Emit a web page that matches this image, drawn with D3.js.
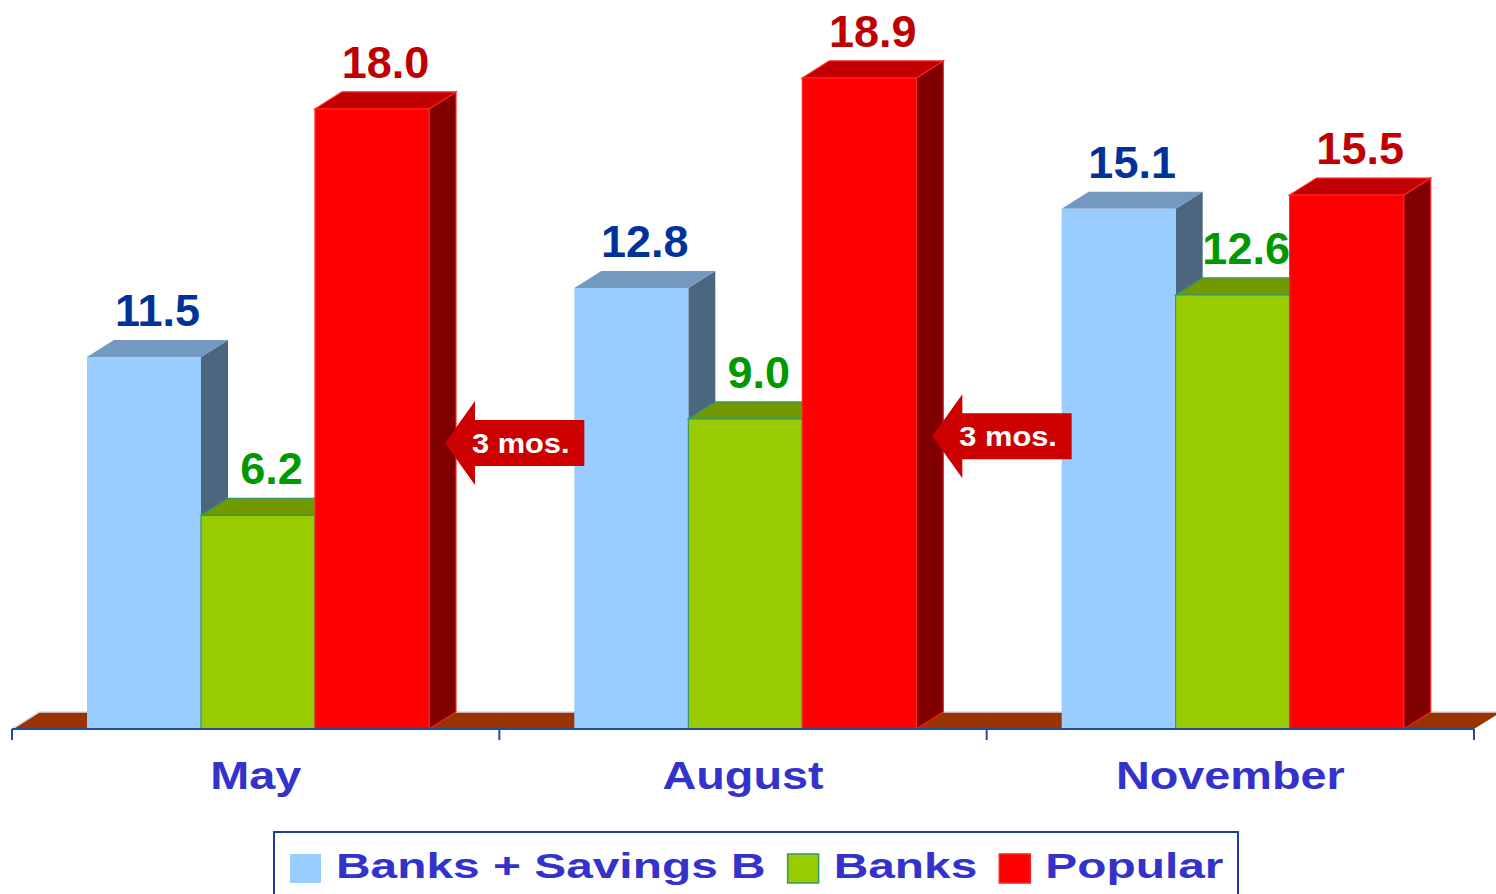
<!DOCTYPE html>
<html>
<head>
<meta charset="utf-8">
<script src="https://cdn.jsdelivr.net/npm/d3@7"></script>
<style>
body { margin: 0; background: #fff; }
svg { display: block; }
text { font-family: "Liberation Sans", Arial, sans-serif; font-weight: bold; }
</style>
</head>
<body>
<svg width="1496" height="894"></svg>
<script>
var categories = ["May", "August", "November"];
var series = ["Banks + Savings B", "Banks", "Popular"];

// bar heights as they are drawn in the picture
var banksSavings = [10.8, 12.8, 15.1];
var banks = [6.2, 9.0, 12.6];
var popular = [18.0, 18.9, 15.5];

// printed value labels
var banksSavingsLabels = ["11.5", "12.8", "15.1"];
var banksLabels = ["6.2", "9.0", "12.6"];
var popularLabels = ["18.0", "18.9", "15.5"];

var arrowText = ["3 mos.", "3 mos."];
var arrowLevel = [8.3, 8.5];

var svg = d3.select("svg"),
    width = +svg.attr("width"),
    height = +svg.attr("height");

var base = 729, dx = 27, dy = 17;

var styles = {
  "Banks + Savings B": {front: "#99ccff", top: "#7399c0", side: "#4d6680", stroke: "none", label: "#003399"},
  "Banks": {front: "#99cc00", top: "#739900", side: "#4d6600", stroke: "#339966", label: "#009900"},
  "Popular": {front: "#ff0000", top: "#c00000", side: "#800000", stroke: "#ff2020", label: "#c00000"}
};

var x0 = d3.scaleBand().domain(categories).range([12, 1474]);
var x1 = d3.scaleBand().domain(series).range([75, 417]);
var y = d3.scaleLinear().domain([0, 20]).range([base, base - 20 * 34.45]);

var values = [banksSavings, banks, popular];
var labels = [banksSavingsLabels, banksLabels, popularLabels];

var data = [];
categories.forEach(function(c, i) {
  series.forEach(function(s, j) {
    data.push({cat: c, ser: s, value: values[j][i], label: labels[j][i]});
  });
});

// floor
var x0r = x0.range();
svg.append("path")
  .attr("d", "M" + x0r[0] + "," + base + "L" + x0r[1] + "," + base +
       "L" + (x0r[1] + dx) + "," + (base - dy) + "L" + (x0r[0] + dx) + "," + (base - dy) + "Z")
  .attr("fill", "#993300");
svg.append("path")
  .attr("d", "M" + x0r[0] + "," + base + "L" + (x0r[0] + dx) + "," + (base - dy) + "L" + (x0r[1] + dx) + "," + (base - dy))
  .attr("fill", "none")
  .attr("stroke", "#d8dce8")
  .attr("stroke-width", 1.5);

// bars
var w = x1.bandwidth();
var bar = svg.selectAll(".bar")
  .data(data)
  .enter().append("g")
  .attr("class", "bar");

bar.append("path")
  .attr("d", function(d) {
    var x = x0(d.cat) + x1(d.ser), t = y(d.value);
    return "M" + (x + w) + "," + t + "L" + (x + w + dx) + "," + (t - dy) +
      "L" + (x + w + dx) + "," + (base - dy) + "L" + (x + w) + "," + base + "Z";
  })
  .attr("fill", function(d) { return styles[d.ser].side; })
  .attr("stroke", function(d) { return styles[d.ser].stroke; })
  .attr("stroke-width", 1.2);

bar.append("path")
  .attr("d", function(d) {
    var x = x0(d.cat) + x1(d.ser), t = y(d.value);
    return "M" + x + "," + t + "L" + (x + dx) + "," + (t - dy) +
      "L" + (x + w + dx) + "," + (t - dy) + "L" + (x + w) + "," + t + "Z";
  })
  .attr("fill", function(d) { return styles[d.ser].top; })
  .attr("stroke", function(d) { return styles[d.ser].stroke; })
  .attr("stroke-width", 1.2);

bar.append("rect")
  .attr("x", function(d) { return x0(d.cat) + x1(d.ser); })
  .attr("y", function(d) { return y(d.value); })
  .attr("width", w)
  .attr("height", function(d) { return base - y(d.value); })
  .attr("fill", function(d) { return styles[d.ser].front; })
  .attr("stroke", function(d) { return styles[d.ser].stroke; })
  .attr("stroke-width", 1.2);

bar.append("text")
  .attr("x", function(d) { return x0(d.cat) + x1(d.ser) + w / 2 + dx / 2; })
  .attr("y", function(d) { return y(d.value) - dy - 14; })
  .attr("text-anchor", "middle")
  .attr("font-size", 45)
  .attr("fill", function(d) { return styles[d.ser].label; })
  .text(function(d) { return d.label; });

// axis
var axisColor = "#1f4e9f";
svg.append("line")
  .attr("x1", x0r[0]).attr("x2", x0r[1])
  .attr("y1", base).attr("y2", base)
  .attr("stroke", axisColor).attr("stroke-width", 2);
var bounds = categories.map(function(c) { return x0(c); }).concat([x0r[1]]);
svg.selectAll(".bound")
  .data(bounds)
  .enter().append("line")
  .attr("x1", function(d) { return d; }).attr("x2", function(d) { return d; })
  .attr("y1", base).attr("y2", base + 11)
  .attr("stroke", axisColor).attr("stroke-width", 2);

var axis = svg.append("g")
  .attr("transform", "translate(0," + base + ")")
  .call(d3.axisBottom(x0).tickSize(0).tickPadding(32));
axis.select(".domain").remove();
axis.selectAll("text")
  .attr("font-size", 39)
  .attr("font-family", "Liberation Sans, Arial, sans-serif")
  .attr("fill", "#3333cc")
  .attr("transform", "scale(1.2,1)");

// "3 mos." arrows
arrowText.forEach(function(t, i) {
  var tip = x0(categories[i]) + x1(series[2]) + w + 16;
  var end = x0(categories[i + 1]) + x1(series[0]) + 10;
  var yc = y(arrowLevel[i]);
  svg.append("path")
    .attr("d", "M" + tip + "," + yc + "L" + (tip + 30) + "," + (yc - 42) + "L" + (tip + 30) + "," + (yc - 23) +
      "L" + end + "," + (yc - 23) + "L" + end + "," + (yc + 23) + "L" + (tip + 30) + "," + (yc + 23) +
      "L" + (tip + 30) + "," + (yc + 42) + "Z")
    .attr("fill", "#cc0000");
  svg.append("g")
    .attr("transform", "translate(" + (tip + 27) + "," + (yc + 10) + ") scale(1.1,1)")
    .append("text")
    .attr("font-size", 28)
    .attr("fill", "#fff")
    .text(t);
});

// legend
var legend = svg.append("g");
legend.append("rect")
  .attr("x", 274).attr("y", 832)
  .attr("width", 964).attr("height", 90)
  .attr("fill", "#fff")
  .attr("stroke", "#1f3f99")
  .attr("stroke-width", 2);

var lx = 290;
series.forEach(function(s) {
  legend.append("rect")
    .attr("x", lx).attr("y", 854)
    .attr("width", 31).attr("height", 29)
    .attr("fill", styles[s].front)
    .attr("stroke", styles[s].stroke)
    .attr("stroke-width", 1.5);
  var tg = legend.append("g")
    .attr("transform", "translate(" + (lx + 46) + ",878) scale(1.33,1)");
  var tx = tg.append("text")
    .attr("font-size", 36)
    .attr("fill", "#3333cc")
    .text(s);
  lx = lx + 46 + tx.node().getComputedTextLength() * 1.33 + 22;
});
</script>
</body>
</html>
